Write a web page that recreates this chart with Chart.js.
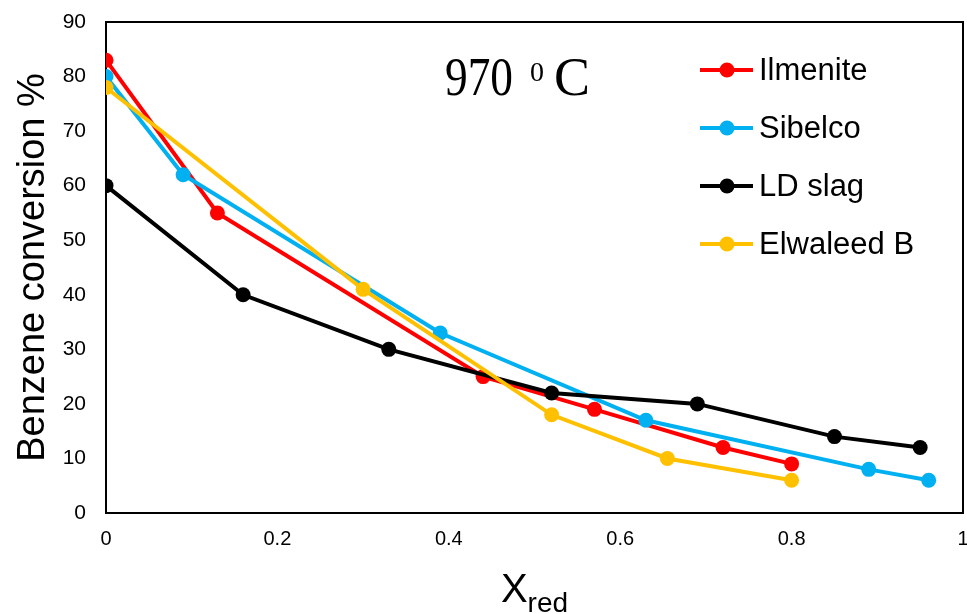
<!DOCTYPE html>
<html>
<head>
<meta charset="utf-8">
<script src="https://cdn.jsdelivr.net/npm/chart.js@4"></script>
<style>
  html, body { margin: 0; padding: 0; background: #fff; }
  #wrap { width: 967px; height: 614px; }
</style>
</head>
<body>
<div id="wrap"><canvas id="chart" width="967" height="614"></canvas></div>
<script>
// series names
const seriesNames = ["Ilmenite", "Sibelco", "LD slag", "Elwaleed B"];
const seriesColors = ["#FF0000", "#00B0F0", "#000000", "#FFC000"];

// Xred values per series
const ilmeniteX = [0, 0.13, 0.44, 0.57, 0.72, 0.80];
const sibelcoX = [0, 0.09, 0.39, 0.63, 0.89, 0.96];
const ldSlagX = [0, 0.16, 0.33, 0.52, 0.69, 0.85, 0.95];
const elwaleedX = [0, 0.30, 0.52, 0.655, 0.80];

// benzene conversion %
const ilmeniteY = [83, 55, 25, 19, 12, 9];
const sibelcoY = [80, 62, 33, 17, 8, 6];
const ldSlagY = [60, 40, 30, 22, 20, 14, 12];
const elwaleedY = [78, 41, 18, 10, 6];

const xs = [ilmeniteX, sibelcoX, ldSlagX, elwaleedX];
const ys = [ilmeniteY, sibelcoY, ldSlagY, elwaleedY];

function pairs(x, y) {
  return x.map((v, i) => ({ x: v, y: y[i] }));
}

const datasets = seriesNames.map((name, i) => ({
  label: name,
  data: pairs(xs[i], ys[i]),
  borderColor: seriesColors[i],
  backgroundColor: seriesColors[i],
  borderWidth: 4,
  pointRadius: 7.5,
  pointHoverRadius: 7.5,
  pointBorderWidth: 0,
  tension: 0,
  order: seriesNames.length - i  // later series on top, like excel
}));

const SANS = "'Liberation Sans', Arial, sans-serif";
const SERIF = "'Liberation Serif', 'Times New Roman', serif";

// box, annotation, x title and legend
const extras = {
  id: "extras",
  afterDraw(chart) {
    const ctx = chart.ctx;
    const a = chart.chartArea;
    ctx.save();
    // top + right frame
    ctx.strokeStyle = "#000";
    ctx.lineWidth = 2;
    ctx.beginPath();
    ctx.moveTo(a.left, a.top);
    ctx.lineTo(a.right, a.top);
    ctx.lineTo(a.right, a.bottom);
    ctx.stroke();

    // 970 0C
    ctx.fillStyle = "#000";
    ctx.textBaseline = "alphabetic";
    ctx.textAlign = "left";
    ctx.font = "54px " + SERIF;
    ctx.fillText("970", 445, 95, 68);
    ctx.font = "28px " + SERIF;
    ctx.fillText("0", 530, 81, 15);
    ctx.font = "54px " + SERIF;
    ctx.fillText("C", 554, 95, 36);

    // x title X_red
    ctx.font = "40px " + SANS;
    const wX = ctx.measureText("X").width;
    ctx.font = "28px " + SANS;
    const wR = ctx.measureText("red").width;
    const xx = (a.left + a.right) / 2 - (wX + wR) / 2;
    ctx.font = "40px " + SANS;
    ctx.fillText("X", xx, 602);
    ctx.font = "28px " + SANS;
    ctx.fillText("red", xx + wX, 612);

    // legend
    ctx.font = "31px " + SANS;
    ctx.textBaseline = "middle";
    chart.data.datasets.forEach((ds, i) => {
      const ly = 70 + i * 58;
      ctx.strokeStyle = ds.borderColor;
      ctx.fillStyle = ds.borderColor;
      ctx.lineWidth = 4;
      ctx.beginPath();
      ctx.moveTo(700, ly);
      ctx.lineTo(753, ly);
      ctx.stroke();
      ctx.beginPath();
      ctx.arc(727, ly, 7.5, 0, Math.PI * 2);
      ctx.fill();
      ctx.fillStyle = "#000";
      ctx.fillText(ds.label, 759, ly + 1);
    });
    ctx.restore();
  }
};

new Chart(document.getElementById("chart"), {
  type: "line",
  data: { datasets: datasets },
  options: {
    responsive: false,
    animation: false,
    layout: { autoPadding: false, padding: { top: 22, right: 4, left: 0, bottom: 0 } },
    plugins: {
      legend: { display: false },
      tooltip: { enabled: false }
    },
    scales: {
      x: {
        type: "linear",
        min: 0,
        max: 1,
        ticks: {
          stepSize: 0.2,
          color: "#000",
          padding: 14,
          maxRotation: 0,
          callback: v => String(Math.round(v * 10) / 10),
          font: { family: SANS, size: 20 }
        },
        grid: { display: false, drawTicks: false },
        border: { color: "#000", width: 2 },
        afterFit(scale) {
          scale.height = 101;
          scale.paddingLeft = 0;
          scale.paddingRight = 0;
        }
      },
      y: {
        min: 0,
        max: 90,
        ticks: {
          stepSize: 10,
          color: "#000",
          padding: 20,
          font: { family: SANS, size: 21 }
        },
        grid: { display: false, drawTicks: false },
        border: { color: "#000", width: 2 },
        title: {
          display: true,
          text: "Benzene conversion %",
          color: "#000",
          padding: { top: 11, bottom: 0 },
          font: { family: SANS, size: 38 }
        },
        afterFit(scale) {
          scale.width = 106;
          scale.paddingTop = 0;
          scale.paddingBottom = 0;
        }
      }
    }
  },
  plugins: [extras]
});
</script>
</body>
</html>
